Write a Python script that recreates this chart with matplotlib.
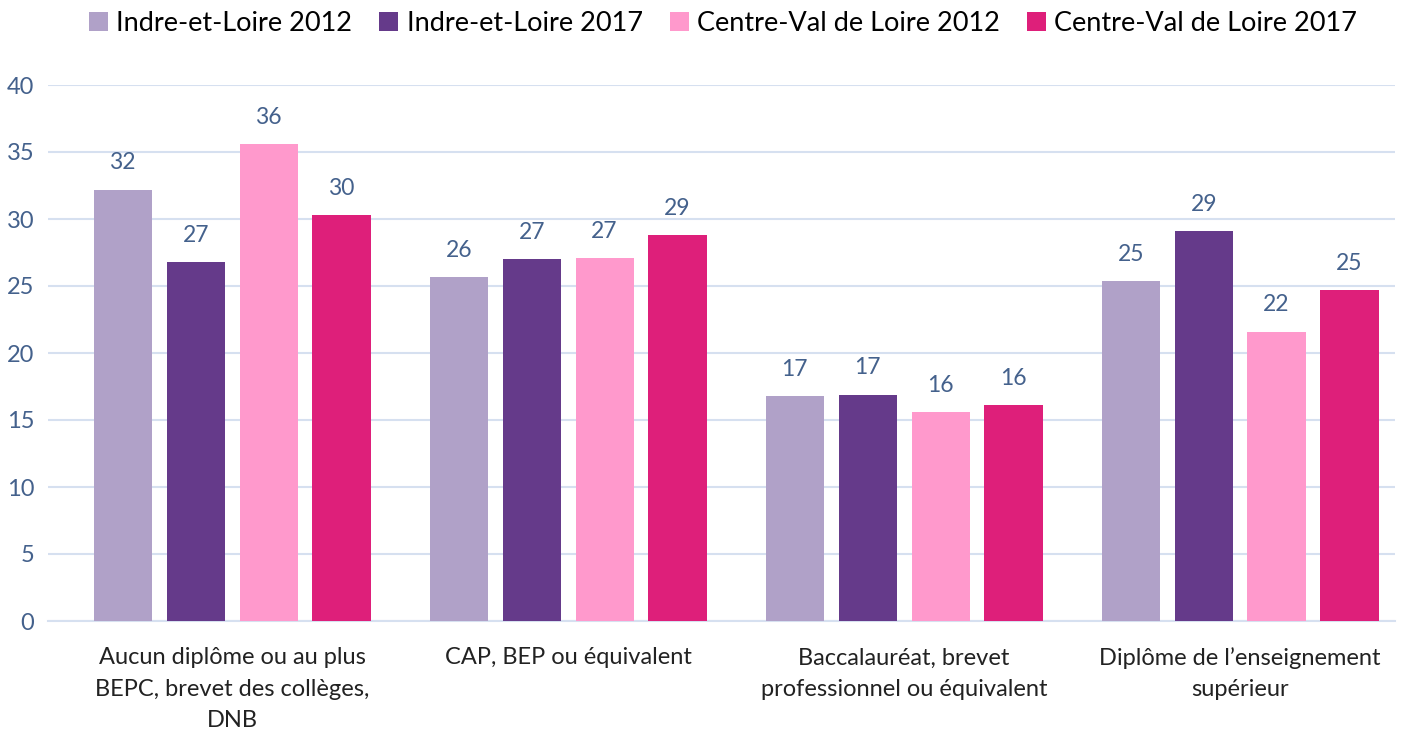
import matplotlib.pyplot as plt
import numpy as np

plt.rcParams['font.family'] = ['Lato', 'DejaVu Sans']

categories = ["Aucun diplôme ou au plus\nBEPC, brevet des collèges,\nDNB",
              "CAP, BEP ou équivalent",
              "Baccalauréat, brevet\nprofessionnel ou équivalent",
              "Diplôme de l\u2019enseignement\nsupérieur"]
series = ["Indre-et-Loire 2012", "Indre-et-Loire 2017",
          "Centre-Val de Loire 2012", "Centre-Val de Loire 2017"]
indre_2012 = [32.2, 25.7, 16.8, 25.4]
indre_2017 = [26.8, 27.0, 16.9, 29.1]
centre_2012 = [35.6, 27.1, 15.6, 21.6]
centre_2017 = [30.3, 28.8, 16.1, 24.7]
colors = ["#B0A1C8", "#653A8A", "#FF99CC", "#DE1F7A"]

values = [indre_2012, indre_2017, centre_2012, centre_2017]
label_col = "#44618C"

fig = plt.figure(figsize=(14.04, 7.31), dpi=100)
ax = fig.add_axes([48/1404, 110/731, (1395-48)/1404, 536/731])

x = np.arange(len(categories))
pitch = 0.217
width = 0.173
for i, (vals, name, c) in enumerate(zip(values, series, colors)):
    pos = x + (i - 1.5) * pitch
    bars = ax.bar(pos, vals, width, color=c, label=name, zorder=3)
    for b, v in zip(bars, vals):
        ax.text(b.get_x() + b.get_width()/2, v + 1.2, f"{round(v):d}",
                ha="center", va="bottom", fontsize=16.5, color=label_col)

ax.set_xlim(-0.548, 3.461)
ax.set_ylim(0, 40)
ax.set_yticks(range(0, 41, 5))
ax.yaxis.grid(True, color="#D6E0F0", linewidth=1.5, zorder=0)
for s in ["top", "right", "left"]:
    ax.spines[s].set_visible(False)
ax.spines["bottom"].set_color("#D6E0F0")
ax.spines["bottom"].set_linewidth(1.5)
ax.tick_params(axis="y", length=0, labelsize=17, labelcolor=label_col, pad=10)
ax.tick_params(axis="x", length=0, labelsize=17, pad=19)
ax.set_xticks(x)
ax.set_xticklabels(categories, color="#222222", linespacing=1.6)

fig.legend(loc="upper center", bbox_to_anchor=(0.515, 1.018), ncol=4, frameon=False,
           fontsize=19.5, handlelength=0.7, handleheight=0.7, handletextpad=0.3,
           columnspacing=1.0)

fig.savefig("out.png", dpi=100)
